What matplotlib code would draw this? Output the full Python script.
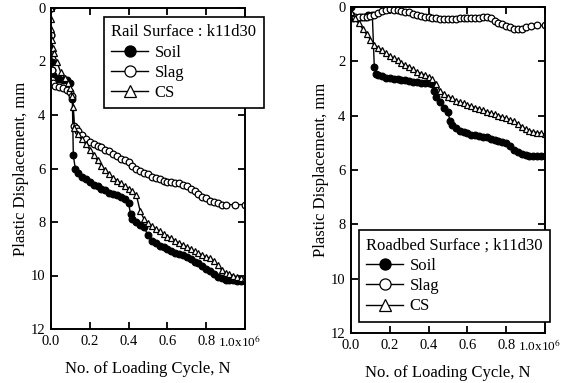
import matplotlib
matplotlib.use("Agg")
import matplotlib.pyplot as plt
from matplotlib.lines import Line2D
from matplotlib.transforms import ScaledTranslation

plt.rcParams['font.family'] = ['Liberation Serif', 'DejaVu Serif']
plt.rcParams['mathtext.fontset'] = 'stix'

# ---------------- Rail surface (left) ----------------
rail_soil_x = [0.0, 0.002, 0.004, 0.006, 0.01, 0.02, 0.04, 0.06, 0.08, 0.10, 0.11, 0.115, 0.125,
               0.14, 0.16, 0.18, 0.20, 0.22, 0.24, 0.26, 0.28, 0.30, 0.32, 0.34, 0.36, 0.38, 0.40,
               0.41, 0.42, 0.44, 0.46, 0.48, 0.50, 0.52, 0.54, 0.56, 0.58, 0.60, 0.62, 0.64, 0.66,
               0.68, 0.70, 0.72, 0.74, 0.76, 0.78, 0.80, 0.82, 0.84, 0.86, 0.88, 0.90, 0.92, 0.94,
               0.96, 0.98, 1.00]
rail_soil_y = [0.0, 1.0, 2.0, 2.3, 2.5, 2.6, 2.65, 2.7, 2.7, 2.8, 3.4, 5.5, 6.0,
               6.15, 6.3, 6.4, 6.5, 6.6, 6.65, 6.75, 6.8, 6.9, 6.95, 7.0, 7.05, 7.15, 7.3,
               7.7, 7.9, 8.0, 8.1, 8.2, 8.5, 8.7, 8.8, 8.9, 8.95, 9.0, 9.1, 9.15, 9.2,
               9.25, 9.3, 9.4, 9.5, 9.55, 9.65, 9.75, 9.85, 9.95, 10.05, 10.1, 10.15, 10.15, 10.15,
               10.2, 10.2, 10.2]

rail_slag_x = [0.0, 0.002, 0.004, 0.006, 0.01, 0.02, 0.04, 0.06, 0.08, 0.10, 0.11, 0.12, 0.13,
               0.14, 0.16, 0.18, 0.20, 0.22, 0.24, 0.26, 0.28, 0.30, 0.32, 0.34, 0.36, 0.38, 0.40,
               0.42, 0.44, 0.46, 0.48, 0.50, 0.52, 0.54, 0.56, 0.58, 0.60, 0.62, 0.64, 0.66, 0.68,
               0.70, 0.72, 0.74, 0.76, 0.78, 0.80, 0.82, 0.84, 0.86, 0.88, 0.90, 0.95, 1.00]
rail_slag_y = [0.0, 1.0, 2.3, 2.7, 2.8, 2.9, 2.95, 3.0, 3.05, 3.15, 3.3, 4.4, 4.5,
               4.6, 4.75, 4.9, 5.0, 5.1, 5.15, 5.2, 5.3, 5.35, 5.45, 5.55, 5.65, 5.7, 5.75,
               5.9, 6.0, 6.1, 6.15, 6.2, 6.3, 6.35, 6.4, 6.45, 6.5, 6.5, 6.55, 6.55, 6.6,
               6.65, 6.75, 6.85, 6.95, 7.05, 7.1, 7.2, 7.25, 7.3, 7.35, 7.35, 7.35, 7.35]

rail_cs_x = [0.0, 0.001, 0.002, 0.004, 0.008, 0.015, 0.03, 0.05, 0.07, 0.09, 0.10, 0.11, 0.115,
             0.12, 0.14, 0.16, 0.18, 0.20, 0.22, 0.24, 0.26, 0.28, 0.30, 0.32, 0.34, 0.36, 0.38,
             0.40, 0.42, 0.44, 0.46, 0.48, 0.50, 0.52, 0.54, 0.56, 0.58, 0.60, 0.62, 0.64, 0.66,
             0.68, 0.70, 0.72, 0.74, 0.76, 0.78, 0.80, 0.82, 0.84, 0.86, 0.88, 0.90, 0.92, 0.94,
             0.96, 0.98, 1.00]
rail_cs_y = [0.0, 0.4, 0.8, 1.2, 1.5, 1.7, 2.0, 2.4, 2.6, 2.8, 3.0, 3.3, 3.7,
             4.5, 4.7, 4.9, 5.1, 5.3, 5.5, 5.7, 5.9, 6.05, 6.2, 6.35, 6.45, 6.55, 6.65,
             6.75, 6.85, 7.0, 7.6, 7.9, 8.05, 8.15, 8.25, 8.35, 8.45, 8.55, 8.6, 8.7, 8.8,
             8.85, 8.95, 9.0, 9.1, 9.15, 9.25, 9.3, 9.35, 9.45, 9.6, 9.8, 9.9, 9.95, 10.0,
             10.05, 10.1, 10.1]

# ---------------- Roadbed surface (right) ----------------
road_soil_x = [0.0, 0.002, 0.01, 0.03, 0.05, 0.07, 0.09, 0.11, 0.12, 0.13, 0.14, 0.16, 0.18,
               0.20, 0.22, 0.24, 0.26, 0.28, 0.30, 0.32, 0.34, 0.36, 0.38, 0.40, 0.42, 0.43,
               0.44, 0.46, 0.48, 0.50, 0.51, 0.52, 0.54, 0.56, 0.58, 0.60, 0.62, 0.64, 0.66,
               0.68, 0.70, 0.72, 0.74, 0.76, 0.78, 0.80, 0.82, 0.84, 0.86, 0.88, 0.90, 0.92,
               0.94, 0.96, 0.98, 1.00]
road_soil_y = [0.0, 0.3, 0.4, 0.4, 0.35, 0.35, 0.3, 0.3, 2.2, 2.45, 2.5, 2.55, 2.6,
               2.6, 2.65, 2.65, 2.7, 2.7, 2.72, 2.75, 2.75, 2.78, 2.78, 2.8, 2.85, 3.1,
               3.3, 3.5, 3.7, 3.85, 4.2, 4.35, 4.45, 4.55, 4.6, 4.65, 4.7, 4.72, 4.75,
               4.78, 4.8, 4.85, 4.9, 4.95, 4.97, 5.0, 5.1, 5.25, 5.35, 5.42, 5.45, 5.47,
               5.48, 5.5, 5.5, 5.5]

road_slag_x = [0.0, 0.02, 0.04, 0.06, 0.08, 0.10, 0.12, 0.14, 0.16, 0.18, 0.20, 0.22, 0.24,
               0.26, 0.28, 0.30, 0.32, 0.34, 0.36, 0.38, 0.40, 0.42, 0.44, 0.46, 0.48, 0.50,
               0.52, 0.54, 0.56, 0.58, 0.60, 0.62, 0.64, 0.66, 0.68, 0.70, 0.72, 0.74, 0.76,
               0.78, 0.80, 0.82, 0.84, 0.86, 0.88, 0.90, 0.93, 0.96, 1.00]
road_slag_y = [0.3, 0.35, 0.35, 0.35, 0.35, 0.33, 0.3, 0.22, 0.15, 0.1, 0.08, 0.1, 0.1,
               0.15, 0.18, 0.2, 0.25, 0.3, 0.33, 0.35, 0.38, 0.4, 0.42, 0.45, 0.45, 0.45,
               0.44, 0.43, 0.42, 0.42, 0.42, 0.4, 0.4, 0.4, 0.38, 0.38, 0.4, 0.5, 0.58,
               0.62, 0.7, 0.75, 0.8, 0.82, 0.8, 0.75, 0.7, 0.68, 0.68]

road_cs_x = [0.0, 0.02, 0.04, 0.06, 0.08, 0.10, 0.12, 0.14, 0.16, 0.18, 0.20, 0.22, 0.24,
             0.26, 0.28, 0.30, 0.32, 0.34, 0.36, 0.38, 0.40, 0.42, 0.44, 0.46, 0.48, 0.50,
             0.52, 0.54, 0.56, 0.58, 0.60, 0.62, 0.64, 0.66, 0.68, 0.70, 0.72, 0.74, 0.76,
             0.78, 0.80, 0.82, 0.84, 0.86, 0.88, 0.90, 0.92, 0.94, 0.96, 0.98, 1.00]
road_cs_y = [0.2, 0.4, 0.6, 0.8, 1.0, 1.2, 1.4, 1.5, 1.6, 1.7, 1.8, 1.88, 1.95,
             2.05, 2.15, 2.2, 2.3, 2.38, 2.45, 2.5, 2.58, 2.65, 2.85, 3.1, 3.2, 3.3,
             3.35, 3.45, 3.5, 3.55, 3.6, 3.65, 3.7, 3.75, 3.8, 3.85, 3.9, 3.95, 4.0,
             4.05, 4.1, 4.15, 4.2, 4.3, 4.4, 4.5, 4.55, 4.6, 4.62, 4.65, 4.67]

series_names = ['Soil', 'Slag', 'CS']
panel_titles = ['Rail Surface : k11d30', 'Roadbed Surface ; k11d30']
x_ticks = [0.0, 0.2, 0.4, 0.6, 0.8, 1.0]
x_ticklabels = ['0.0', '0.2', '0.4', '0.6', '0.8', '1.0x10$^{6}$']
y_ticks = [0, 2, 4, 6, 8, 10, 12]

styles = [dict(marker='o', mfc='black', mec='black'),
          dict(marker='o', mfc='white', mec='black'),
          dict(marker='^', mfc='white', mec='black')]

fig = plt.figure(figsize=(5.71, 3.83), dpi=100)
ax1 = fig.add_axes([51/571, 1-329/383, 194/571, 321/383])
ax2 = fig.add_axes([351/571, 1-333/383, 194/571, 326/383])

panels = [
    (ax1, [(rail_soil_x, rail_soil_y), (rail_slag_x, rail_slag_y), (rail_cs_x, rail_cs_y)]),
    (ax2, [(road_soil_x, road_soil_y), (road_slag_x, road_slag_y), (road_cs_x, road_cs_y)]),
]

for ax, data in panels:
    for (xs, ys), st, name in zip(data, styles, series_names):
        ax.plot(xs, ys, color='black', lw=1.0, ms=4.8, mew=0.9, label=name, **st)
    ax.set_xlim(0, 1.0)
    ax.set_ylim(12, 0)
    ax.set_xticks(x_ticks)
    ax.set_xticklabels(x_ticklabels, fontsize=10.5)
    ax.set_yticks(y_ticks)
    ax.set_yticklabels([str(v) for v in y_ticks], fontsize=10.5)
    ax.tick_params(direction='in', top=True, right=True, length=5, width=1.3, pad=4)
    for s in ax.spines.values():
        s.set_linewidth(1.4)
    ax.set_xlabel('No. of Loading Cycle, N', fontsize=12, labelpad=8)
    ax.set_ylabel('Plastic Displacement, mm', fontsize=12, labelpad=1)
    last = ax.get_xticklabels()[-1]
    last.set_fontsize(9.5)
    last.set_horizontalalignment('left')
    last.set_transform(last.get_transform() + ScaledTranslation(-27/100, 0, fig.dpi_scale_trans))

handles = [Line2D([], [], color='black', lw=1.0, ms=8, mew=0.9, **st) for st in styles]

leg1 = ax1.legend(handles, series_names, title=panel_titles[0], loc='upper left',
                  bbox_to_anchor=(0.273, 0.972), fontsize=12, title_fontsize=12,
                  fancybox=False, framealpha=1, edgecolor='black', borderpad=0.45,
                  labelspacing=0.25, handlelength=2.2, handletextpad=0.4, borderaxespad=0)
leg1._legend_box.align = 'left'
leg1.get_frame().set_linewidth(1.2)

leg2 = ax2.legend(handles, series_names, title=panel_titles[1], loc='lower left',
                  bbox_to_anchor=(0.041, 0.034), fontsize=12, title_fontsize=12,
                  fancybox=False, framealpha=1, edgecolor='black', borderpad=0.45,
                  labelspacing=0.25, handlelength=2.2, handletextpad=0.4, borderaxespad=0)
leg2._legend_box.align = 'left'
leg2.get_frame().set_linewidth(1.2)

fig.savefig('out.png', dpi=100)
